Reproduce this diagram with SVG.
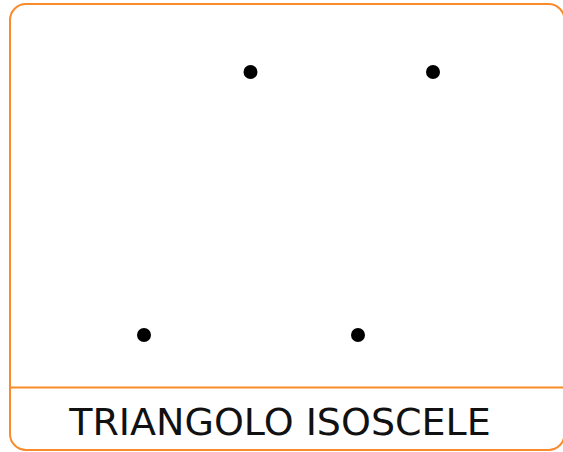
<svg xmlns="http://www.w3.org/2000/svg" width="563" height="452" viewBox="0 0 563 452">
<style>
.frame{fill:#fff;stroke:#f98b2a;stroke-width:2}
.pt{fill:#000}
.lbl{font-family:"DejaVu Sans",Verdana,sans-serif;font-size:38px;fill:#111;text-anchor:middle}
</style>
<g id="card">
<rect class="frame" x="10" y="4" width="554.5" height="446" rx="16" ry="16"/>
<line x1="10" y1="387.5" x2="563" y2="387.5" stroke="#f98b2a" stroke-width="2"/>
<text class="lbl" x="280" y="434.5">TRIANGOLO ISOSCELE</text>
</g>
<g id="points">
<circle class="pt" cx="250.5" cy="72" r="7"/>
<circle class="pt" cx="433" cy="72" r="7"/>
<circle class="pt" cx="144" cy="335" r="7"/>
<circle class="pt" cx="358" cy="335" r="7"/>
</g>
</svg>
